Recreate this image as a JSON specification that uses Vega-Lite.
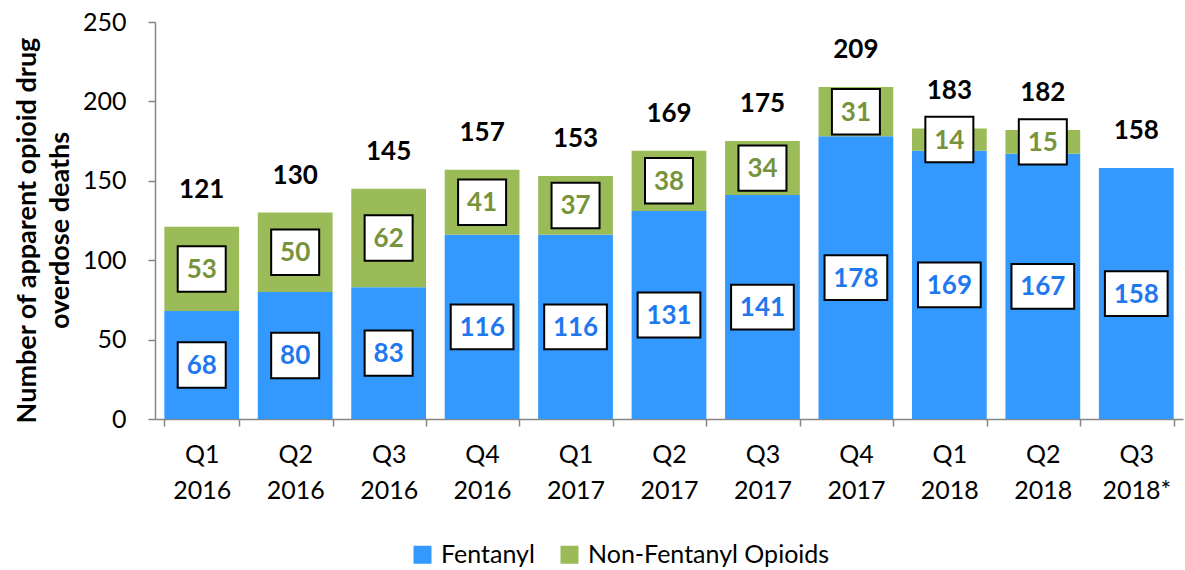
{
  "$schema": "https://vega.github.io/schema/vega-lite/v6.json",
  "autosize": {"type": "none"},
  "width": 1028,
  "height": 397,
  "padding": {"left": 155, "top": 22, "right": 2, "bottom": 151},
  "background": "white",
  "config": {
    "font": "Lato",
    "view": {"stroke": null},
    "axis": {"labelFont": "Lato", "titleFont": "Lato", "labelColor": "#000000", "titleColor": "#000000"}
  },
  "data": {
    "values": [
      {"q": "Q1 2016", "type": "Fentanyl", "value": 68},
      {"q": "Q1 2016", "type": "Non-Fentanyl Opioids", "value": 53},
      {"q": "Q2 2016", "type": "Fentanyl", "value": 80},
      {"q": "Q2 2016", "type": "Non-Fentanyl Opioids", "value": 50},
      {"q": "Q3 2016", "type": "Fentanyl", "value": 83},
      {"q": "Q3 2016", "type": "Non-Fentanyl Opioids", "value": 62},
      {"q": "Q4 2016", "type": "Fentanyl", "value": 116},
      {"q": "Q4 2016", "type": "Non-Fentanyl Opioids", "value": 41},
      {"q": "Q1 2017", "type": "Fentanyl", "value": 116},
      {"q": "Q1 2017", "type": "Non-Fentanyl Opioids", "value": 37},
      {"q": "Q2 2017", "type": "Fentanyl", "value": 131},
      {"q": "Q2 2017", "type": "Non-Fentanyl Opioids", "value": 38},
      {"q": "Q3 2017", "type": "Fentanyl", "value": 141},
      {"q": "Q3 2017", "type": "Non-Fentanyl Opioids", "value": 34},
      {"q": "Q4 2017", "type": "Fentanyl", "value": 178},
      {"q": "Q4 2017", "type": "Non-Fentanyl Opioids", "value": 31},
      {"q": "Q1 2018", "type": "Fentanyl", "value": 169},
      {"q": "Q1 2018", "type": "Non-Fentanyl Opioids", "value": 14},
      {"q": "Q2 2018", "type": "Fentanyl", "value": 167},
      {"q": "Q2 2018", "type": "Non-Fentanyl Opioids", "value": 15},
      {"q": "Q3 2018*", "type": "Fentanyl", "value": 158}
    ]
  },
  "transform": [
    {"stack": "value", "groupby": ["q"], "sort": [{"field": "type", "order": "ascending"}], "as": ["v0", "v1"]},
    {"calculate": "(datum.v0 + datum.v1) / 2", "as": "mid"}
  ],
  "encoding": {
    "x": {
      "field": "q", "type": "nominal", "sort": null,
      "scale": {"paddingInner": 0.2, "paddingOuter": 0.1},
      "axis": {
        "title": null, "labelAngle": 0, "labelExpr": "split(datum.label, ' ')",
        "labelFontSize": 25, "labelLineHeight": 36, "labelPadding": 16, "labelBaseline": "top",
        "tickBand": "extent", "tickSize": 7, "tickColor": "#868686", "domainColor": "#868686",
        "tickWidth": 1.5, "domainWidth": 1.5
      }
    }
  },
  "layer": [
    {
      "mark": {"type": "bar"},
      "encoding": {
        "y": {
          "field": "v1", "type": "quantitative",
          "scale": {"domain": [0, 250], "padding": 0, "nice": false},
          "axis": {
            "values": [0, 50, 100, 150, 200, 250], "grid": false,
            "title": ["Number of apparent opioid drug", "overdose deaths"],
            "titleFontSize": 27, "titleFontWeight": "bold", "titleLineHeight": 33,
            "titleAngle": -90, "titleX": -141, "titleY": 208, "titleBaseline": "top", "titleAlign": "center",
            "labelFontSize": 25, "labelPadding": 22, "tickSize": 7,
            "tickColor": "#868686", "domainColor": "#868686", "tickWidth": 1.5, "domainWidth": 1.5
          }
        },
        "y2": {"field": "v0"},
        "color": {
          "field": "type", "type": "nominal",
          "scale": {"domain": ["Fentanyl", "Non-Fentanyl Opioids"], "range": ["#3399FF", "#9BBB59"]},
          "legend": {
            "title": null, "orient": "none", "direction": "horizontal",
            "legendX": 255, "legendY": 520,
            "symbolType": "square", "symbolSize": 324, "symbolStrokeWidth": 0,
            "labelFontSize": 25, "labelColor": "#000000", "labelOffset": 6, "columnPadding": 22,
            "labelFont": "Lato", "labelLimit": 0
          }
        }
      }
    },
    {
      "mark": {"type": "point", "filled": true, "fill": "white", "stroke": "black", "strokeWidth": 2, "size": 4096, "opacity": 1},
      "encoding": {
        "y": {"field": "mid", "type": "quantitative"},
        "shape": {
          "condition": {"test": "datum.value >= 100", "value": "M-0.98,-0.7H0.98V0.7H-0.98Z"},
          "value": "M-0.75,-0.71H0.75V0.71H-0.75Z"
        }
      }
    },
    {
      "mark": {"type": "text", "fontSize": 26, "fontWeight": "bold", "baseline": "middle", "dy": 1},
      "encoding": {
        "y": {"field": "mid", "type": "quantitative"},
        "text": {"field": "value", "type": "quantitative"},
        "color": {
          "field": "type", "type": "nominal",
          "scale": {"domain": ["Fentanyl", "Non-Fentanyl Opioids"], "range": ["#3399FF", "#9BBB59"]},
          "legend": null
        },
        "fill": {
          "field": "type", "type": "nominal",
          "scale": {"domain": ["Fentanyl", "Non-Fentanyl Opioids"], "range": ["#1F78F0", "#77933C"]},
          "legend": null
        }
      }
    },
    {
      "mark": {"type": "text", "fontSize": 26, "fontWeight": "bold", "baseline": "middle", "dy": -37, "color": "black"},
      "encoding": {
        "y": {"aggregate": "max", "field": "v1", "type": "quantitative"},
        "text": {"aggregate": "max", "field": "v1", "type": "quantitative"}
      }
    }
  ],
  "resolve": {"scale": {"color": "shared"}}
}
